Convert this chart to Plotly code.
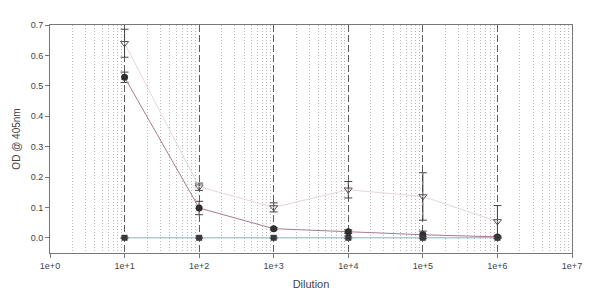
import plotly.graph_objects as go

dilution = [1e1, 1e2, 1e3, 1e4, 1e5, 1e6]

tri_vals = [0.640, 0.168, 0.100, 0.158, 0.136, 0.054]
tri_err = [0.046, 0.012, 0.015, 0.027, 0.078, 0.052]

circ_vals = [0.528, 0.098, 0.030, 0.020, 0.010, 0.003]
circ_err = [0.017, 0.022, 0.004, 0.006, 0.012, 0.003]

zero_vals = [0.0, 0.0, 0.0, 0.0, 0.0, 0.0]
zero_err = [0.002, 0.002, 0.002, 0.003, 0.003, 0.002]

x_tickvals = [1e0, 1e1, 1e2, 1e3, 1e4, 1e5, 1e6, 1e7]
x_ticktext = ["1e+0", "1e+1", "1e+2", "1e+3", "1e+4", "1e+5", "1e+6", "1e+7"]
minor_vals = [m * 10 ** d for d in range(0, 7) for m in range(2, 10)]

y_tickvals = [0.0, 0.1, 0.2, 0.3, 0.4, 0.5, 0.6, 0.7]

fig = go.Figure()

fig.add_trace(go.Scatter(
    x=dilution, y=tri_vals, mode="lines+markers",
    line=dict(color="#e6d6dc", width=1),
    marker=dict(symbol="triangle-down-open", size=7, color="#555555", line=dict(width=1)),
    error_y=dict(type="data", array=tri_err, color="#444444", thickness=1, width=4),
    showlegend=False))

fig.add_trace(go.Scatter(
    x=dilution, y=circ_vals, mode="lines+markers",
    line=dict(color="#a87a94", width=1),
    marker=dict(symbol="circle", size=7, color="#2e2e2e"),
    error_y=dict(type="data", array=circ_err, color="#444444", thickness=1, width=4),
    showlegend=False))

fig.add_trace(go.Scatter(
    x=dilution, y=zero_vals, mode="lines+markers",
    line=dict(color="#8fb0b6", width=1),
    marker=dict(symbol="square", size=6, color="#3a3a3a"),
    error_y=dict(type="data", array=zero_err, color="#444444", thickness=1, width=4),
    showlegend=False))

fig.update_xaxes(
    type="log", range=[0, 7], automargin=False,
    tickmode="array", tickvals=x_tickvals, ticktext=x_ticktext,
    showgrid=True, gridcolor="#5e5e5e", griddash="7px,3px", gridwidth=1.4,
    minor=dict(tickmode="array", tickvals=minor_vals, showgrid=True,
               gridcolor="#b8b8b8", griddash="1px,2px", gridwidth=1, ticks=""),
    showline=True, linecolor="#777777", linewidth=1, mirror=True,
    ticks="outside", ticklen=4, tickcolor="#777777",
    zeroline=False,
    title=dict(text="Dilution", font=dict(size=11, color="#444444"), standoff=10),
    tickfont=dict(size=9, color="#444444"),
)

fig.update_yaxes(
    range=[-0.05, 0.7], automargin=False,
    tickmode="array", tickvals=y_tickvals, tickformat=".1f",
    showgrid=False, zeroline=False,
    showline=True, linecolor="#777777", linewidth=1, mirror=True,
    ticks="outside", ticklen=4, tickcolor="#777777",
    title=dict(text="OD @ 405nm", font=dict(size=10, color="#444444"), standoff=8),
    tickfont=dict(size=9, color="#444444"),
)

fig.update_layout(
    width=600, height=295,
    margin=dict(l=50, r=28, t=25, b=42),
    paper_bgcolor="white", plot_bgcolor="white",
    font=dict(family="Liberation Sans, Arial, sans-serif"),
)

fig.write_html("out.html")
